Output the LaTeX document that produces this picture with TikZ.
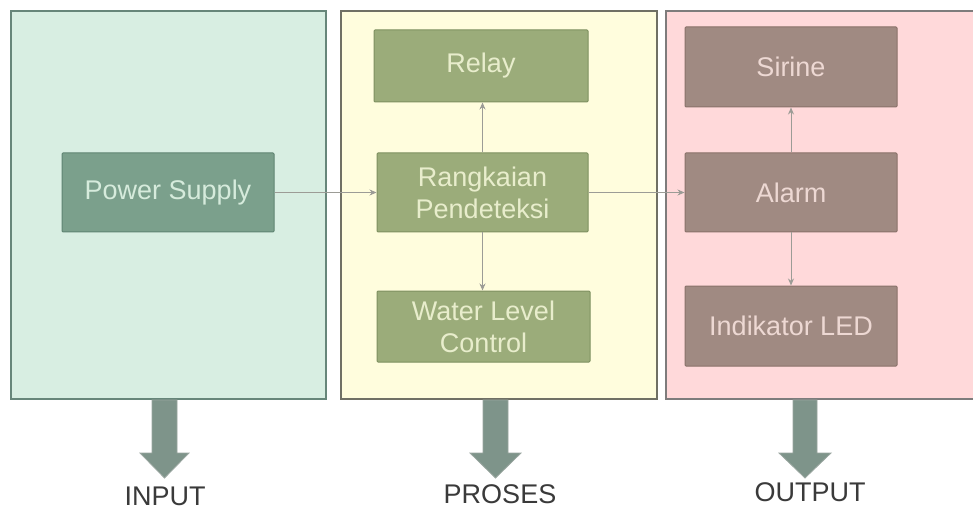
\documentclass[tikz,border=0pt]{standalone}
\usepackage{fontspec}
\setmainfont{Liberation Sans}
\usetikzlibrary{arrows.meta}
\definecolor{inbg}{HTML}{D8EEE2}
\definecolor{inbd}{HTML}{67867A}
\definecolor{inbox}{HTML}{7BA08C}
\definecolor{inboxbd}{HTML}{5F8472}
\definecolor{intx}{HTML}{D6EBDC}
\definecolor{prbg}{HTML}{FFFDDD}
\definecolor{prbd}{HTML}{707064}
\definecolor{prbox}{HTML}{9BAC7A}
\definecolor{prboxbd}{HTML}{7E9060}
\definecolor{prtx}{HTML}{E8EDCC}
\definecolor{oubg}{HTML}{FFD9DA}
\definecolor{oubd}{HTML}{7E7C7C}
\definecolor{oubox}{HTML}{A08A82}
\definecolor{ouboxbd}{HTML}{8A726A}
\definecolor{outx}{HTML}{EDD8D3}
\definecolor{bigarr}{HTML}{7E948A}
\definecolor{bigarrbd}{HTML}{9AA6A0}
\definecolor{conn}{HTML}{9C9C96}
\definecolor{lbl}{HTML}{3A3A3A}
\tikzset{
  panel/.style={draw, line width=1.5pt, minimum width=#1, minimum height=388pt, inner sep=0pt},
  blk/.style={draw, line width=1pt, rounded corners=1pt, align=center, inner sep=0pt,
    font=\fontsize{27}{32}\selectfont},
  inblk/.style={blk, fill=inbox, draw=inboxbd, text=intx},
  prblk/.style={blk, fill=prbox, draw=prboxbd, text=prtx},
  oublk/.style={blk, fill=oubox, draw=ouboxbd, text=outx},
  conn/.style={draw=conn, line width=0.9pt, -{Stealth[length=7pt,width=6pt]}},
  bigarrow/.style={fill=bigarr, draw=bigarrbd, line width=0.8pt},
  lab/.style={text=lbl, font=\fontsize{27}{30}\selectfont, inner sep=0pt}
}
\begin{document}
\begin{tikzpicture}[x=1pt,y=-1pt]
\clip (0,0) rectangle (973,510);
\fill[white] (0,0) rectangle (973,510);
% panels
\node[panel=315pt, fill=inbg, draw=inbd] (inpanel) at (168.5,205) {};
\node[panel=316pt, fill=prbg, draw=prbd] (prpanel) at (499,205) {};
\node[panel=330pt, fill=oubg, draw=oubd] (oupanel) at (831,205) {};
% blocks
\node[inblk, minimum width=212pt, minimum height=79pt] (ps) at (168,192.5) {\raisebox{-3pt}{Power Supply}};
\node[prblk, minimum width=214pt, minimum height=72pt] (relay) at (481,66) {\raisebox{-2pt}{Relay}};
\node[prblk, minimum width=211pt, minimum height=79pt] (rp) at (482.5,192.5) {Rangkaian\\Pendeteksi};
\node[prblk, minimum width=213pt, minimum height=71pt] (wlc) at (483.5,326.5) {Water Level\\Control};
\node[oublk, minimum width=212pt, minimum height=80pt] (sir) at (791,67) {\raisebox{-2pt}{Sirine}};
\node[oublk, minimum width=212pt, minimum height=79pt] (alm) at (791,192.5) {\raisebox{-2pt}{Alarm}};
\node[oublk, minimum width=212pt, minimum height=80pt] (led) at (791,326) {\raisebox{-2pt}{Indikator LED}};
% connectors
\draw[conn] (ps.east) -- (rp.west);
\draw[conn] (rp.north) -- (rp.north |- relay.south);
\draw[conn] (rp.south) -- (rp.south |- wlc.north);
\draw[conn] (rp.east) -- (alm.west);
\draw[conn] (alm.north) -- (sir.south);
\draw[conn] (alm.south) -- (led.north);
% big arrows
\draw[bigarrow] (152,400) -- (177,400) -- (177,453) -- (189,453) -- (164.5,478) -- (140,453) -- (152,453) -- cycle;
\draw[bigarrow] (483,400) -- (508,400) -- (508,453) -- (521,453) -- (495.5,478) -- (470,453) -- (483,453) -- cycle;
\draw[bigarrow] (793,400) -- (817,400) -- (817,453) -- (831,453) -- (805,478) -- (779,453) -- (793,453) -- cycle;
% labels
\node[lab] (linput) at (165,496) {INPUT};
\node[lab] (lproses) at (500,494) {PROSES};
\node[lab] (loutput) at (810,492) {OUTPUT};
\end{tikzpicture}
\end{document}
